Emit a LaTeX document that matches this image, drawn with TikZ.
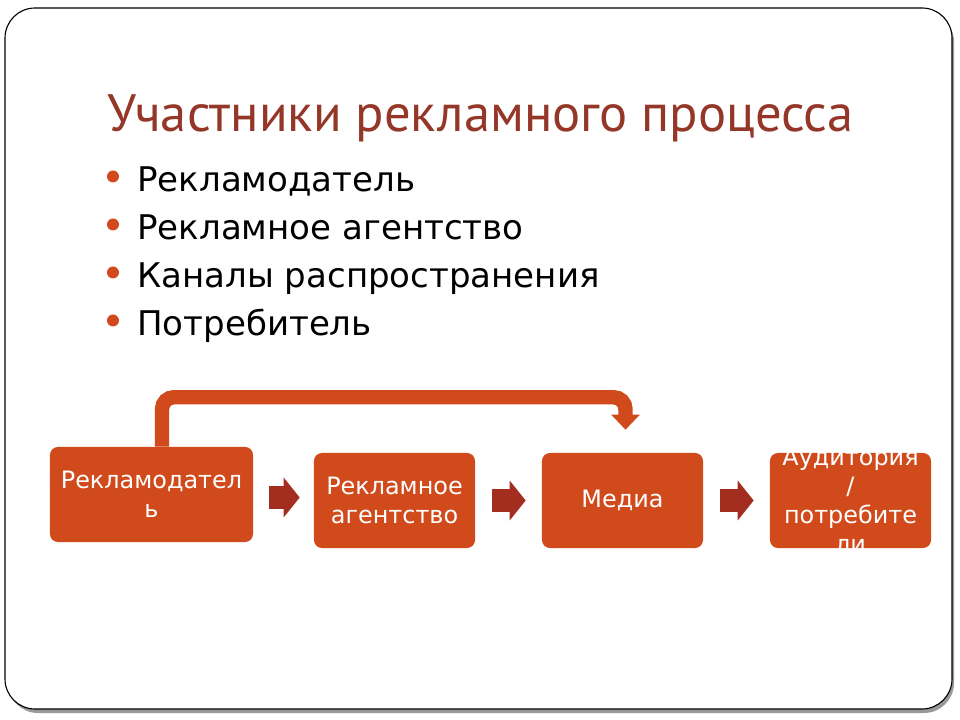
\documentclass[tikz,border=0pt]{standalone}
\usepackage{fontspec}
\setmainfont{DejaVu Sans}
\newfontfamily\titlefont{PT Sans}
\usetikzlibrary{arrows.meta,positioning,calc}
\definecolor{boxorange}{RGB}{208,74,27}
\definecolor{arrowred}{RGB}{163,45,31}
\definecolor{titlered}{RGB}{148,54,40}

\begin{document}
\begin{tikzpicture}[x=0.025cm,y=-0.025cm,
        stage/.style={fill=boxorange,rounded corners=0.2cm,minimum height=2.375cm,inner sep=0pt},
        stagetext/.style={text=white,align=center,inner sep=0pt,font=\fontsize{17}{20.6}\selectfont},
        blockarrow/.style={arrowred,line width=0.55cm,-{Triangle[width=0.975cm,length=0.4cm]}},
        loopback/.style={boxorange,line width=0.36cm,rounded corners=0.3cm,-{Triangle[width=0.7cm,length=0.38cm]}}]
    \useasboundingbox (0,0) rectangle (960,720);
    \fill[black!40,rounded corners=0.75cm] (8,12) rectangle (954,713);
    \draw[fill=white,line width=0.8pt,rounded corners=0.75cm] (5,8) rectangle (952,709);
    \node[anchor=base west,text=titlered,inner sep=0pt,font=\titlefont\fontsize{37.4}{42}\selectfont] (title) at (107,132) {Участники рекламного процесса};
    \foreach \y/\item [count=\i] in {192/Рекламодатель, 240/Рекламное агентство, 288/Каналы распространения, 336/Потребитель} {
        \fill[boxorange] (113,\y-15.5) circle[radius=0.15cm];
        \node[anchor=base west,inner sep=0pt,font=\fontsize{24.2}{29}\selectfont] (item\i) at (137,\y) {\item};
    }
    \node[stage,minimum width=5.075cm] (adv) at (151.5,494.5) {};
    \node[stage,minimum width=4.025cm] (agency) at (394.5,500.5) {};
    \node[stage,minimum width=4.025cm] (media) at (622.5,500.5) {};
    \node[stage,minimum width=4.025cm] (aud) at (850.5,500.5) {};
    \node[stagetext] (advtext) at (adv.center) {Рекламодател\\ь};
    \node[stagetext] (agencytext) at (agency.center) {Рекламное\\агентство};
    \node[stagetext] (mediatext) at (media.center) {Медиа};
    \node[stagetext] (audtext) at (aud.center) {Аудитория\\/\\потребите\\ли};
    \draw[blockarrow] ($(adv.east)+(16,3)$) -- ($(agency.west)+(-14,-3)$);
    \draw[blockarrow] ($(agency.east)+(17,0)$) -- ($(media.west)+(-16,0)$);
    \draw[blockarrow] ($(media.east)+(17,0)$) -- ($(aud.west)+(-16,0)$);
    \draw[loopback] ($(adv.north)+(10.5,0)$) |- ($(media.north)+(3,-55.5)$) -- ($(media.north)+(3,-23)$);
\end{tikzpicture}
\end{document}
